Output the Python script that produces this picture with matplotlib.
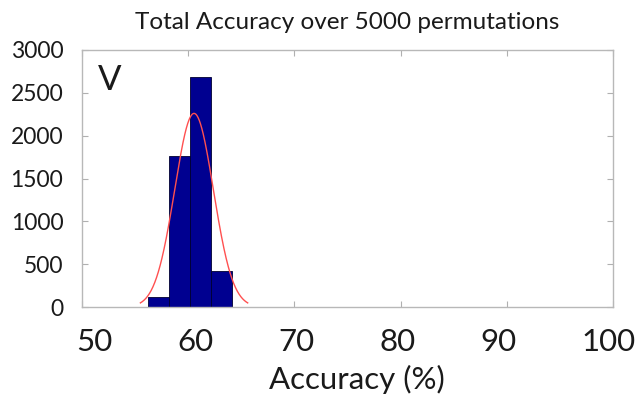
import matplotlib
matplotlib.use("Agg")
import matplotlib.pyplot as plt
import matplotlib.transforms as mtransforms
import numpy as np

# Data
bin_edges = [56.2, 58.2, 60.15, 62.1, 64.1]
counts = [120, 1765, 2680, 425]
fit_mu = 60.55
fit_sigma = 1.82
fit_peak = 2260
fit_range = [55.5, 65.6]
x_ticks = [50, 60, 70, 80, 90, 100]
y_ticks = [0, 500, 1000, 1500, 2000, 2500, 3000]

plt.rcParams['font.family'] = ['Lato', 'DejaVu Sans']

fig = plt.figure(figsize=(6.37, 4.05), dpi=100)
W, H = 637, 405
ax = fig.add_axes([82 / W, 1 - 307 / H, (613 - 82) / W, (307 - 50) / H])

widths = np.diff(bin_edges)
ax.bar(bin_edges[:-1], counts, width=widths, align='edge',
       color='#000090', edgecolor='#000030', linewidth=0.6, zorder=2)

xs = np.linspace(fit_range[0], fit_range[1], 300)
ys = fit_peak * np.exp(-0.5 * ((xs - fit_mu) / fit_sigma) ** 2)
ax.plot(xs, ys, color='#ff5050', linewidth=1.0, zorder=3)

ax.set_xlim(50, 100)
ax.set_ylim(0, 3000)
ax.set_xticks(x_ticks)
ax.set_yticks(y_ticks)
ax.set_xticklabels([str(t) for t in x_ticks], fontsize=22.5, color='#1a1a1a',
                   ha='left')
ax.set_yticklabels([str(t) for t in y_ticks], fontsize=16.5, color='#1a1a1a')
ax.tick_params(axis='both', direction='in', length=4, color='#b0b0b0',
               top=True, right=True, width=0.8)
ax.tick_params(axis='x', pad=15)
ax.tick_params(axis='y', pad=13.5)
for s in ax.spines.values():
    s.set_color('#b8b8b8')
    s.set_linewidth(1.0)

# x tick labels in the reference sit slightly compressed toward the left
for i, lab in enumerate(ax.get_xticklabels()):
    dx = (-6 - 5.07 * i) / 100.0
    lab.set_transform(lab.get_transform() +
                      mtransforms.ScaledTranslation(dx, 0, fig.dpi_scale_trans))

ax.set_title('Total Accuracy over 5000 permutations', fontsize=17.5,
             color='#1a1a1a', pad=15)
ax.set_xlabel('Accuracy (%)', fontsize=22.5, color='#1a1a1a', labelpad=6)
ax.xaxis.set_label_coords(0.518, -0.226)
ax.text(0.03, 0.844, 'V', transform=ax.transAxes, fontsize=25,
        color='#1a1a1a', ha='left', va='baseline')

fig.savefig('out.png', dpi=100)
